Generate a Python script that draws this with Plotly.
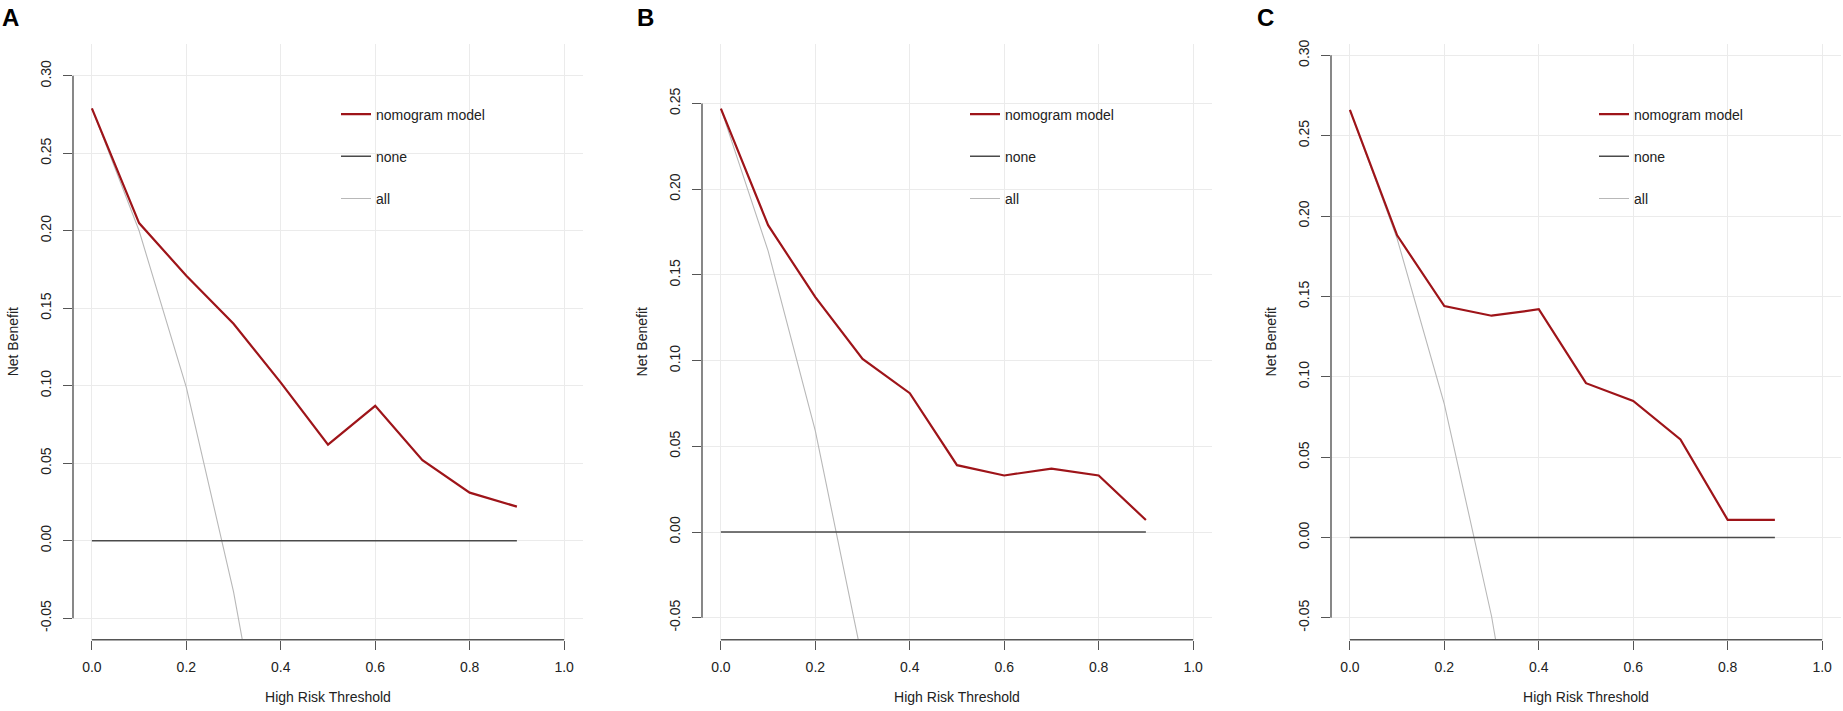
import plotly.graph_objects as go

# --- data ---
thresholds = [0.0, 0.1, 0.2, 0.3, 0.4, 0.5, 0.6, 0.7, 0.8, 0.9]
thresholds_all = [0.0, 0.1, 0.2, 0.3, 0.4]
none_nb = [0.0, 0.0, 0.0, 0.0, 0.0, 0.0, 0.0, 0.0, 0.0, 0.0]

nomo_a = [0.279, 0.205, 0.171, 0.140, 0.102, 0.062, 0.087, 0.052, 0.031, 0.022]
all_a = [0.279, 0.200, 0.099, -0.033, -0.200]

nomo_b = [0.247, 0.179, 0.137, 0.101, 0.081, 0.039, 0.033, 0.037, 0.033, 0.007]
all_b = [0.247, 0.164, 0.059, -0.075, -0.250]

nomo_c = [0.266, 0.188, 0.144, 0.138, 0.142, 0.096, 0.085, 0.061, 0.011, 0.011]
all_c = [0.266, 0.186, 0.083, -0.049, -0.220]

x_ticks = [0.0, 0.2, 0.4, 0.6, 0.8, 1.0]
y_ticks_a = [-0.05, 0.0, 0.05, 0.10, 0.15, 0.20, 0.25, 0.30]
y_ticks_b = [-0.05, 0.0, 0.05, 0.10, 0.15, 0.20, 0.25]
y_ticks_c = [-0.05, 0.0, 0.05, 0.10, 0.15, 0.20, 0.25, 0.30]

panel_labels = ["A", "B", "C"]
series_names = ["nomogram model", "none", "all"]

W, H = 1843, 711
FONT = "Liberation Sans, Arial, sans-serif"
TXT = "#222222"
AXC = "#555555"
GRID = "#ebebeb"

# pixel layout of each panel (plot region left/right, shared top/bottom)
panels = [
    dict(nomo=nomo_a, all=all_a, yt=y_ticks_a, yr=[-0.0639, 0.3207], x0=73, x1=583, leg_x=336, letter_x=10),
    dict(nomo=nomo_b, all=all_b, yt=y_ticks_b, yr=[-0.0628, 0.2848], x0=702, x1=1212, leg_x=965, letter_x=645),
    dict(nomo=nomo_c, all=all_c, yt=y_ticks_c, yr=[-0.0636, 0.3072], x0=1331, x1=1841, leg_x=1594, letter_x=1265),
]
TOP, BOTTOM = 40, 639.3

fig = go.Figure()

for i, p in enumerate(panels):
    n = i + 1
    xa = "x" if n == 1 else f"x{n}"
    ya = "y" if n == 1 else f"y{n}"
    leg = "legend" if n == 1 else f"legend{n}"

    fig.add_trace(go.Scatter(
        x=thresholds_all, y=p["all"], mode="lines", name=series_names[2],
        line=dict(color="#b8b8b8", width=1.1), xaxis=xa, yaxis=ya,
        legend=leg, legendgroup=f"all{n}", legendrank=3, cliponaxis=True,
    ))
    fig.add_trace(go.Scatter(
        x=thresholds, y=none_nb, mode="lines", name=series_names[1],
        line=dict(color="#4a4a4a", width=1.6), xaxis=xa, yaxis=ya,
        legend=leg, legendgroup=f"none{n}", legendrank=2,
    ))
    fig.add_trace(go.Scatter(
        x=thresholds, y=p["nomo"], mode="lines", name=series_names[0],
        line=dict(color="#9e1419", width=2.2), xaxis=xa, yaxis=ya,
        legend=leg, legendgroup=f"nomo{n}", legendrank=1,
    ))

    axis_font = dict(family=FONT, size=14, color=TXT)
    fig.update_layout({
        f"xaxis{'' if n == 1 else n}": dict(
            domain=[p["x0"] / W, p["x1"] / W], anchor=ya, range=[-0.04, 1.04],
            tickvals=x_ticks, ticktext=[f"{v:.1f}" for v in x_ticks],
            ticks="outside", ticklen=9, tickwidth=1.3, tickcolor=AXC,
            showline=False, zeroline=False, showgrid=True, gridcolor=GRID, gridwidth=1,
            tickfont=axis_font, ticklabelstandoff=5,
            title=dict(text="High Risk Threshold", font=axis_font, standoff=18),
        ),
        f"yaxis{'' if n == 1 else n}": dict(
            domain=[1 - BOTTOM / H, 1 - TOP / H], anchor=xa, range=p["yr"],
            tickvals=p["yt"], ticktext=[f"{v:.2f}" for v in p["yt"]], tickangle=-90,
            ticks="outside", ticklen=9, tickwidth=1.3, tickcolor=AXC,
            showline=False, zeroline=False, showgrid=True, gridcolor=GRID, gridwidth=1,
            tickfont=axis_font, ticklabelstandoff=6,
            title=dict(text="Net Benefit", font=axis_font, standoff=16),
        ),
        leg: dict(
            x=p["leg_x"] / W, y=1 - 95 / H, xanchor="left", yanchor="top",
            font=dict(family=FONT, size=14, color=TXT), bgcolor="rgba(0,0,0,0)",
            tracegroupgap=21, borderwidth=0,
        ),
    })

    # R style axis lines that run only from the first to the last tick
    fig.add_shape(type="line", xref=xa, yref=f"{ya} domain",
                  x0=x_ticks[0], x1=x_ticks[-1], y0=0, y1=0,
                  line=dict(color=AXC, width=1.4))
    fig.add_shape(type="line", xref=f"{xa} domain", yref=ya,
                  x0=0, x1=0, y0=p["yt"][0], y1=p["yt"][-1],
                  line=dict(color=AXC, width=1.4))

    fig.add_annotation(
        text=f"<b>{panel_labels[i]}</b>", xref="paper", yref="paper",
        x=p["letter_x"] / W, y=1 - 14 / H, xanchor="center", yanchor="middle",
        showarrow=False, font=dict(family=FONT, size=24, color="#000000"),
    )

fig.update_layout(
    width=W, height=H,
    margin=dict(l=0, r=0, t=0, b=0),
    paper_bgcolor="white", plot_bgcolor="white",
    showlegend=True,
)

# drop the browser's default body margin so the figure fills the window exactly
fig.write_html(
    "out.html",
    config={"displayModeBar": False},
    post_script="document.body.style.margin='0';document.body.style.overflow='hidden';",
)
